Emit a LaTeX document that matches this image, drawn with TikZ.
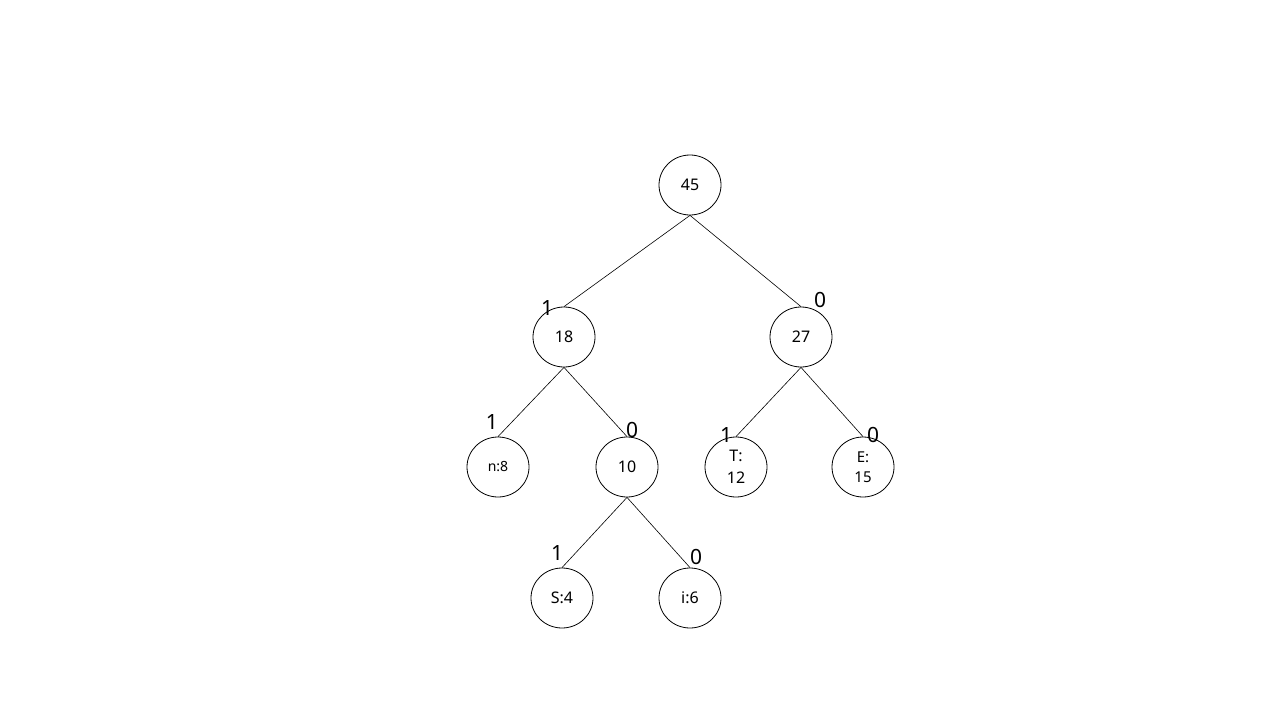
\documentclass[tikz,border=0pt]{standalone}
\usepackage{fontspec}
\setmainfont{Noto Sans}
\usetikzlibrary{shapes.geometric}
\begin{document}
\begin{tikzpicture}[x=1pt,y=-1pt,
  tnode/.style={draw,ellipse,line width=0.8pt,minimum width=62pt,minimum height=60pt,inner sep=0pt,font=\fontsize{16}{18}\selectfont,align=center},
  edge/.style={line width=0.6pt},
  bit/.style={font=\fontsize{21}{23}\selectfont,inner sep=0pt}]
\useasboundingbox[fill=white] (0,0) rectangle (1280,720);
\node[tnode] (r) at (690,185) {45};
\node[tnode] (a) at (564,337) {18};
\node[tnode] (b) at (801,337) {27};
\node[tnode,font=\fontsize{14}{17}\selectfont] (n) at (498,467) {n:8};
\node[tnode] (c) at (627,467) {10};
\node[tnode,font=\fontsize{16}{22}\selectfont] (t) at (736,467) {T:\\12};
\node[tnode,font=\fontsize{15}{20}\selectfont] (e) at (863,467) {E:\\15};
\node[tnode] (s) at (562,598) {S:4};
\node[tnode] (i) at (690,598) {i:6};
\draw[edge] (r.south) -- (a.north);
\draw[edge] (r.south) -- (b.north);
\draw[edge] (a.south) -- (n.north);
\draw[edge] (a.south) -- (c.north);
\draw[edge] (b.south) -- (t.north);
\draw[edge] (b.south) -- (e.north);
\draw[edge] (c.south) -- (s.north);
\draw[edge] (c.south) -- (i.north);
\node[bit] (l1) at (547,308) {1};
\node[bit] (l2) at (820,300) {0};
\node[bit] (l3) at (492,422) {1};
\node[bit] (l4) at (632,430) {0};
\node[bit] (l5) at (726,435) {1};
\node[bit] (l6) at (873,435) {0};
\node[bit] (l7) at (557,553) {1};
\node[bit] (l8) at (696,557) {0};
\end{tikzpicture}
\end{document}
